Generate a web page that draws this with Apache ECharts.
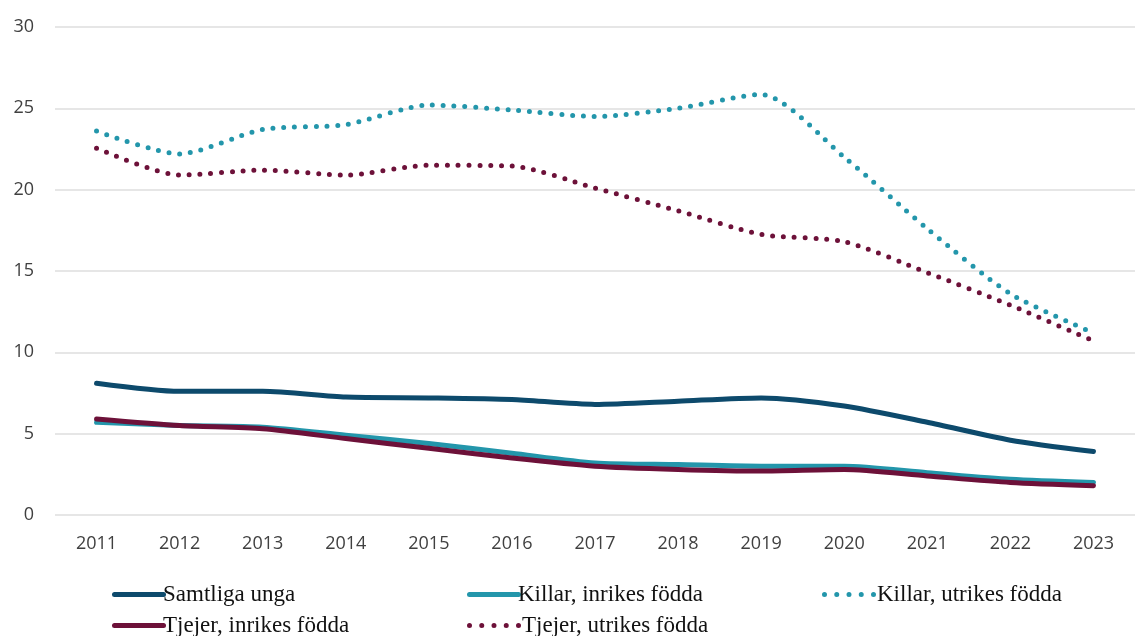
<!DOCTYPE html>
<html>
<head>
<meta charset="utf-8">
<script src="https://cdn.jsdelivr.net/npm/echarts@6/dist/echarts.min.js"></script>
<style>
html,body{margin:0;padding:0;background:#fff;}
#chart{width:1135px;height:636px;}
</style>
</head>
<body>
<div id="chart"></div>
<script>
const years = ['2011','2012','2013','2014','2015','2016','2017','2018','2019','2020','2021','2022','2023'];
const samtligaUnga = [8.1, 7.6, 7.6, 7.25, 7.2, 7.1, 6.8, 7.0, 7.2, 6.7, 5.7, 4.6, 3.9];
const killarInrikes = [5.7, 5.5, 5.4, 4.9, 4.4, 3.8, 3.2, 3.1, 3.0, 3.0, 2.6, 2.2, 2.0];
const killarUtrikes = [23.6, 22.2, 23.7, 24.0, 25.2, 24.9, 24.5, 25.0, 25.85, 22.0, 17.6, 13.6, 11.2];
const tjejerInrikes = [5.9, 5.5, 5.3, 4.7, 4.1, 3.5, 3.0, 2.8, 2.7, 2.8, 2.4, 2.0, 1.8];
const tjejerUtrikes = [22.55, 20.9, 21.2, 20.9, 21.5, 21.45, 20.1, 18.7, 17.25, 16.8, 14.9, 12.9, 10.7];
const names = ['Samtliga unga','Killar, inrikes födda','Killar, utrikes födda','Tjejer, inrikes födda','Tjejer, utrikes födda'];

const NAVY = '#0d4a6c', TEAL = '#2396ab', MAROON = '#6d1139';

const chart = echarts.init(document.getElementById('chart'), null, {renderer:'canvas'});
const solid = (c) => ({color:c, width:5, cap:'round', join:'round'});
const dotted = (c) => ({color:c, width:5, type:[0, 10.8], cap:'round'});

// legend icons
const solidIcon = 'path://M2.5,0 H51.5 A2.5,2.5 0 0 1 51.5,5 H2.5 A2.5,2.5 0 0 1 2.5,0 Z';
function dotsIcon(){
  let p = 'path://';
  const cs = [2.5, 14.75, 27, 39.25, 51.5];
  cs.forEach(c => { p += 'M' + (c-2.5) + ',2.5 A2.5,2.5 0 1 0 ' + (c+2.5) + ',2.5 A2.5,2.5 0 1 0 ' + (c-2.5) + ',2.5 Z '; });
  return p;
}
const dotIcon = dotsIcon();

function leg(name, icon, left, top, pad){
  return {
    left: left, top: top, itemWidth: 54, itemHeight: 5, itemGap: 0, selectedMode: false,
    data:[{name:name, icon:icon}],
    textStyle: {fontFamily:'Liberation Serif', fontSize:23, color:'#111', padding:[0,0,0,pad]}
  };
}
chart.setOption({
  animation:false,
  grid:{left:55, right:-9, top:27, bottom:121},
  legend:[
    leg(names[0], solidIcon, 107, 578, -8),
    leg(names[1], solidIcon, 462, 578, -8),
    leg(names[2], dotIcon, 817, 578, -4),
    leg(names[3], solidIcon, 107, 609, -8),
    leg(names[4], dotIcon, 462, 609, -4)
  ],
  xAxis:{
    type:'category', data:years, boundaryGap:true,
    axisLine:{show:false}, axisTick:{show:false},
    axisLabel:{fontFamily:'Open Sans', fontSize:18, color:'#404040', margin:20}
  },
  yAxis:{
    type:'value', min:0, max:30, interval:5,
    axisLine:{show:false}, axisTick:{show:false},
    axisLabel:{fontFamily:'Open Sans', fontSize:18, color:'#404040', margin:21},
    splitLine:{lineStyle:{color:'#dedede', width:1.5}}
  },
  series:[
    {name:names[0], type:'line', data:samtligaUnga, smooth:0.25, symbol:'none', lineStyle:solid(NAVY), itemStyle:{color:NAVY}},
    {name:names[1], type:'line', data:killarInrikes, smooth:0.25, symbol:'none', lineStyle:solid(TEAL), itemStyle:{color:TEAL}},
    {name:names[2], type:'line', data:killarUtrikes, smooth:0.25, symbol:'none', lineStyle:dotted(TEAL), itemStyle:{color:TEAL}},
    {name:names[3], type:'line', data:tjejerInrikes, smooth:0.25, symbol:'none', lineStyle:solid(MAROON), itemStyle:{color:MAROON}},
    {name:names[4], type:'line', data:tjejerUtrikes, smooth:0.25, symbol:'none', lineStyle:dotted(MAROON), itemStyle:{color:MAROON}}
  ]
});
</script>
</body>
</html>
